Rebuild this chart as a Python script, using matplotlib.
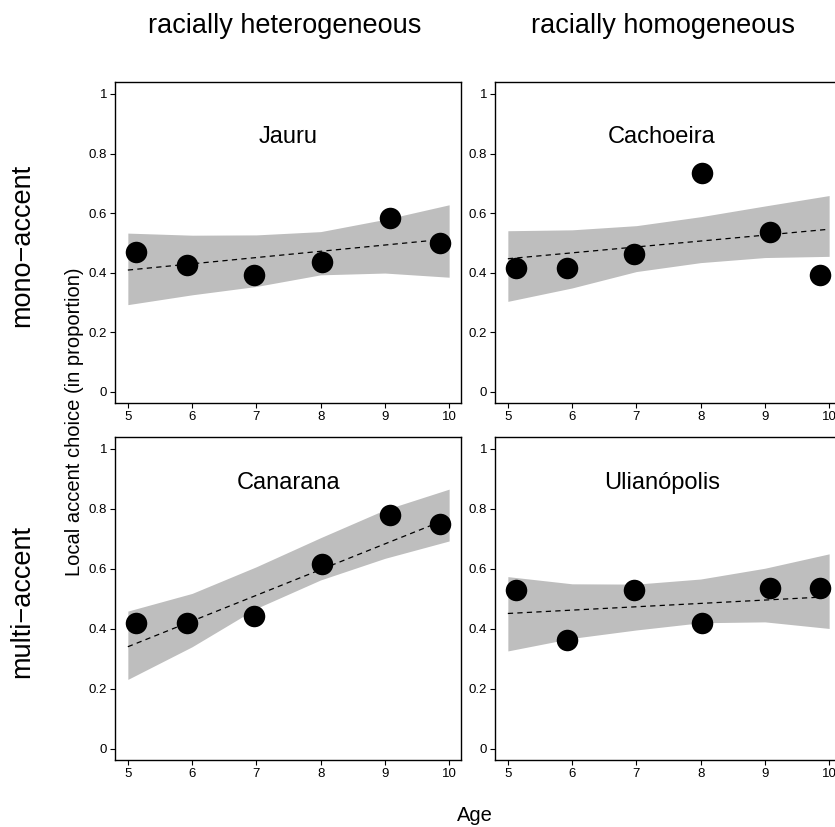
import matplotlib
matplotlib.use("Agg")
import matplotlib.pyplot as plt

plt.rcParams['font.family'] = ['Liberation Sans', 'DejaVu Sans']

W, H = 835, 827

# ---- data ----
col_headers = ["racially heterogeneous", "racially homogeneous"]
row_headers = ["mono\u2212accent", "multi\u2212accent"]
panel_names = ["Jauru", "Cachoeira", "Canarana", "Ulian\u00f3polis"]

point_age = [5.13, 5.92, 6.97, 8.02, 9.08, 9.86]
jauru_pts = [0.471, 0.425, 0.393, 0.437, 0.583, 0.499]
cachoeira_pts = [0.416, 0.416, 0.463, 0.734, 0.538, 0.393]
canarana_pts = [0.418, 0.418, 0.444, 0.616, 0.779, 0.751]
ulianopolis_pts = [0.529, 0.364, 0.529, 0.420, 0.536, 0.536]

fit_age = [5, 6, 7, 8, 9, 10]
jauru_lo = [0.293, 0.326, 0.354, 0.393, 0.399, 0.385]
jauru_hi = [0.533, 0.526, 0.527, 0.538, 0.579, 0.628]
cachoeira_lo = [0.304, 0.349, 0.404, 0.434, 0.451, 0.455]
cachoeira_hi = [0.541, 0.544, 0.558, 0.588, 0.624, 0.659]
canarana_lo = [0.231, 0.340, 0.468, 0.563, 0.635, 0.693]
canarana_hi = [0.459, 0.518, 0.607, 0.704, 0.797, 0.866]
ulianopolis_lo = [0.326, 0.368, 0.396, 0.420, 0.423, 0.401]
ulianopolis_hi = [0.574, 0.550, 0.549, 0.566, 0.602, 0.650]

line_age = [5, 10]
jauru_line = [0.409, 0.514]
cachoeira_line = [0.447, 0.546]
canarana_line = [0.340, 0.769]
ulianopolis_line = [0.451, 0.507]

x_ticks = [5, 6, 7, 8, 9, 10]
y_ticks = [0, 0.2, 0.4, 0.6, 0.8, 1]
y_ticklabels = ["0", "0.2", "0.4", "0.6", "0.8", "1"]

panels = [
    (jauru_pts, jauru_lo, jauru_hi, jauru_line),
    (cachoeira_pts, cachoeira_lo, cachoeira_hi, cachoeira_line),
    (canarana_pts, canarana_lo, canarana_hi, canarana_line),
    (ulianopolis_pts, ulianopolis_lo, ulianopolis_hi, ulianopolis_line),
]

# ---- layout (pixels) ----
lefts = [115, 495]
pw = 345.7
rows = [(81.7, 403.3), (436.7, 760.0)]
title_x = [7.5, 7.4]
title_y = [0.835, 0.865]

fig = plt.figure(figsize=(W / 100, H / 100), dpi=100)

for i, (pts, lo, hi, ln) in enumerate(panels):
    r, c = divmod(i, 2)
    top, bot = rows[r]
    ax = fig.add_axes([lefts[c] / W, 1 - bot / H, pw / W, (bot - top) / H])
    ax.fill_between(fit_age, lo, hi, color='#bebebe', lw=0, zorder=1)
    ax.plot(line_age, ln, color='black', lw=0.9, ls=(0, (4.2, 3.4)), zorder=2)
    ax.plot(point_age, pts, 'o', color='black', ms=15.5, mew=0, zorder=3)
    ax.set_xlim(4.8, 10.18)
    ax.set_ylim(-0.038, 1.041)
    ax.set_xticks(x_ticks)
    ax.set_xticklabels([str(t) for t in x_ticks])
    ax.set_yticks(y_ticks)
    ax.set_yticklabels(y_ticklabels)
    ax.tick_params(length=3.5, width=0.8, labelsize=9.5, pad=2, colors='black')
    for s in ax.spines.values():
        s.set_linewidth(1.0)
        s.set_color('black')
    ax.text(title_x[c], title_y[r], panel_names[i], ha='center', va='baseline',
            fontsize=17)

# column headers
fig.text(285 / W, 1 - 33 / H, col_headers[0], ha='center', va='baseline', fontsize=19.5)
fig.text(663 / W, 1 - 33 / H, col_headers[1], ha='center', va='baseline', fontsize=19.5)
# row headers
fig.text(22 / W, 1 - 245 / H, row_headers[0], rotation=90, ha='center', va='center', fontsize=19.5)
fig.text(22 / W, 1 - 602 / H, row_headers[1], rotation=90, ha='center', va='center', fontsize=19.5)
# axis titles
fig.text(75 / W, 1 - 422 / H, "Local accent choice (in proportion)", rotation=90,
         ha='center', va='center', fontsize=14.5)
fig.text(474.5 / W, 1 - 821 / H, "Age", ha='center', va='baseline', fontsize=14.5)

fig.savefig("out.png", dpi=100)
